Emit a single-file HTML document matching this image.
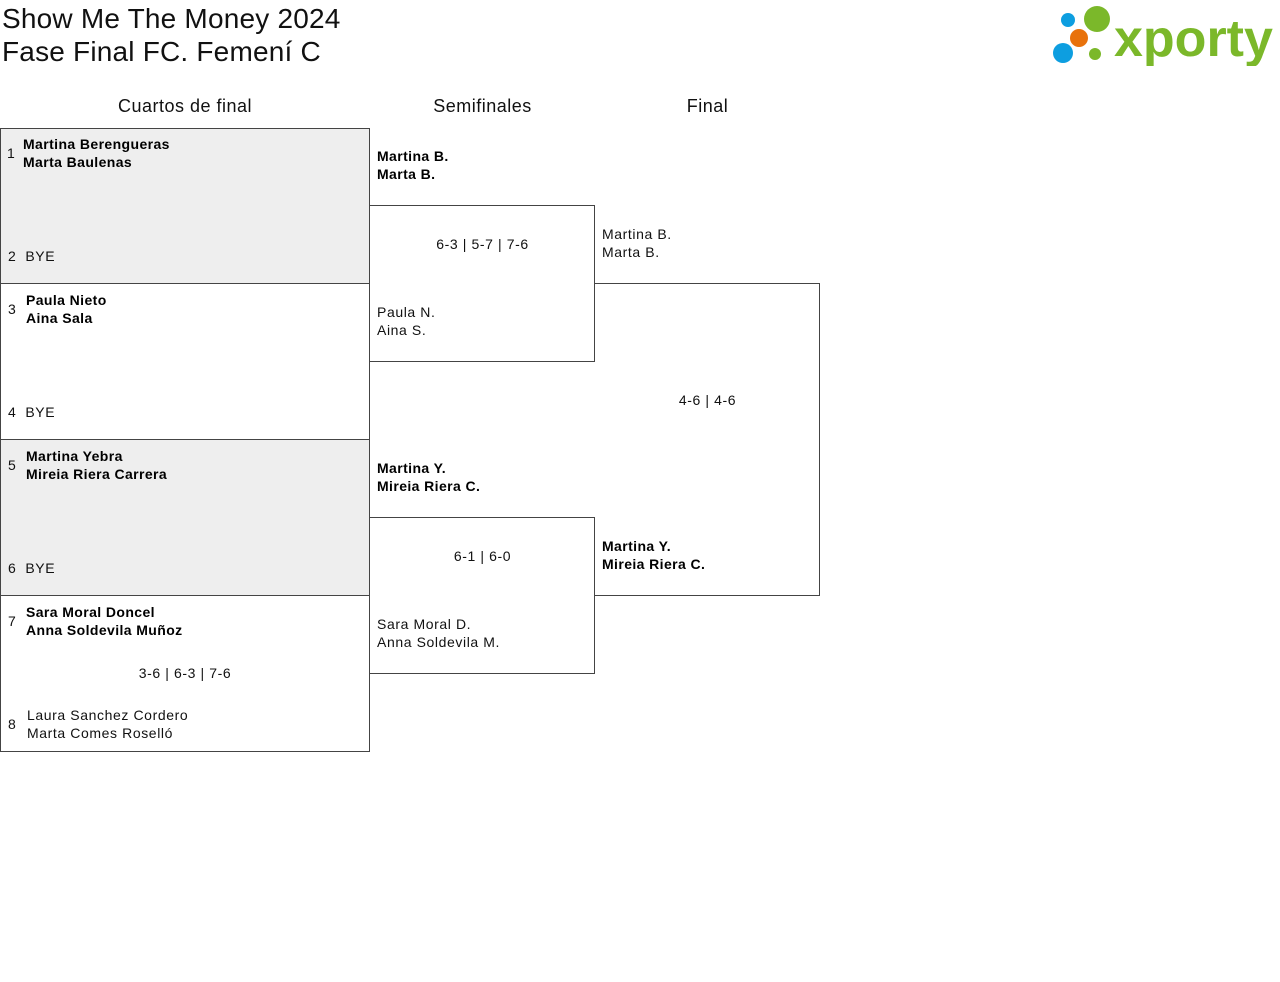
<!DOCTYPE html>
<html><head><meta charset="utf-8"><style>
body{margin:0;width:1280px;height:982px;background:#fff;font-family:"Liberation Sans",sans-serif;color:#111;position:relative;overflow:hidden}
div{position:absolute;box-sizing:border-box}
.t{font-size:14px;line-height:18px;white-space:nowrap;letter-spacing:0.6px;margin-top:-1px}
.b{color:#000;font-weight:bold;font-size:14px;letter-spacing:0.4px}
.bx{border:1px solid #444}
.ol{border:1px solid #444;border-left:none}
.h{font-size:18px;text-align:center;letter-spacing:0.5px}
</style></head><body>
<div style="left:2px;top:2px;font-size:28px;line-height:33px;letter-spacing:0.2px">Show Me The Money 2024<br>Fase Final FC. Femení C</div>
<svg style="position:absolute;left:1050px;top:4px" width="228" height="62">
<circle cx="18" cy="16" r="7" fill="#0d9ee0"/>
<circle cx="47" cy="15" r="13" fill="#7bb82a"/>
<circle cx="29" cy="34" r="9" fill="#e8720c"/>
<circle cx="13" cy="49" r="10" fill="#0d9ee0"/>
<circle cx="45" cy="50" r="6" fill="#7bb82a"/>
<text x="64" y="52" font-family="Liberation Sans" font-weight="bold" font-size="52" fill="#7bb82a">xporty</text>
</svg>
<div class="h" style="left:0;width:370px;top:96px">Cuartos de final</div>
<div class="h" style="left:370px;width:225px;top:96px">Semifinales</div>
<div class="h" style="left:595px;width:225px;top:96px">Final</div>

<div class="bx" style="left:0;top:128px;width:370px;height:156px;background:#eee"></div>
<div class="bx" style="left:0;top:283px;width:370px;height:157px"></div>
<div class="bx" style="left:0;top:439px;width:370px;height:157px;background:#eee"></div>
<div class="bx" style="left:0;top:595px;width:370px;height:157px"></div>
<div class="ol" style="left:370px;top:205px;width:225px;height:157px"></div>
<div class="ol" style="left:370px;top:517px;width:225px;height:157px"></div>
<div class="ol" style="left:595px;top:283px;width:225px;height:313px"></div>

<div class="t" style="left:7px;top:145px">1</div>
<div class="t b" style="left:23px;top:136px">Martina Berengueras<br>Marta Baulenas</div>
<div class="t" style="left:8px;top:248px">2&nbsp;&nbsp;BYE</div>
<div class="t" style="left:8px;top:301px">3</div>
<div class="t b" style="left:26px;top:292px">Paula Nieto<br>Aina Sala</div>
<div class="t" style="left:8px;top:404px">4&nbsp;&nbsp;BYE</div>
<div class="t" style="left:8px;top:457px">5</div>
<div class="t b" style="left:26px;top:448px">Martina Yebra<br>Mireia Riera Carrera</div>
<div class="t" style="left:8px;top:560px">6&nbsp;&nbsp;BYE</div>
<div class="t" style="left:8px;top:613px">7</div>
<div class="t b" style="left:26px;top:604px">Sara Moral Doncel<br>Anna Soldevila Muñoz</div>
<div class="t" style="left:0;width:370px;text-align:center;top:665px">3-6 | 6-3 | 7-6</div>
<div class="t" style="left:8px;top:716px">8</div>
<div class="t" style="left:27px;top:707px">Laura Sanchez Cordero<br>Marta Comes Roselló</div>

<div class="t b" style="left:377px;top:148px">Martina B.<br>Marta B.</div>
<div class="t" style="left:370px;width:225px;text-align:center;top:236px">6-3 | 5-7 | 7-6</div>
<div class="t" style="left:377px;top:304px">Paula N.<br>Aina S.</div>
<div class="t b" style="left:377px;top:460px">Martina Y.<br>Mireia Riera C.</div>
<div class="t" style="left:370px;width:225px;text-align:center;top:548px">6-1 | 6-0</div>
<div class="t" style="left:377px;top:616px">Sara Moral D.<br>Anna Soldevila M.</div>

<div class="t" style="left:602px;top:226px">Martina B.<br>Marta B.</div>
<div class="t" style="left:595px;width:225px;text-align:center;top:392px">4-6 | 4-6</div>
<div class="t b" style="left:602px;top:538px">Martina Y.<br>Mireia Riera C.</div>
</body></html>
